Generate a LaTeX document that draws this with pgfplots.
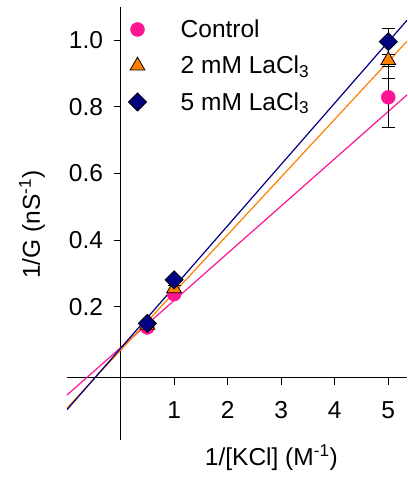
\documentclass[border=0pt]{standalone}
\usepackage{fontspec}
\setmainfont{Liberation Sans}
\usepackage{pgfplots}
\usepackage{pgfplotstable}
\pgfplotsset{compat=1.18}

\definecolor{ctlpink}{RGB}{255,20,147}
\definecolor{laorange}{RGB}{255,128,0}
\definecolor{lanavy}{RGB}{0,0,128}

% 1/G against 1/[KCl], mean and error
\pgfplotstableread{
x     y      e
0.5   0.138  0.005
1     0.238  0.008
5     0.829  0.092
}\control
\pgfplotstableread{
x     y      e
0.5   0.145  0.005
1     0.255  0.008
5     0.940  0.054
}\lathree
\pgfplotstableread{
x     y      e
0.5   0.150  0.005
1     0.281  0.008
5     0.996  0.040
}\lafive

\newcommand{\chartfont}{\fontsize{24.5}{29}\selectfont}

\begin{document}
\begin{tikzpicture}
\begin{axis}[
  scale only axis,
  width=340pt, height=433pt,
  xmin=-1, xmax=5.35, ymin=-0.2, ymax=1.1,
  clip=false,
  axis lines=middle,
  axis x line shift=4.5pt,
  axis line style={line width=1pt, -},
  xtick={1,2,3,4,5},
  ytick={0.2,0.4,0.6,0.8,1.0},
  tick align=outside,
  major tick length=7pt,
  tick style={line width=1pt, black},
  /pgf/number format/assume math mode=true,
  tick label style={font=\chartfont},
  yticklabel style={xshift=-7pt, /pgf/number format/.cd, fixed, fixed zerofill, precision=1},
  xticklabel style={yshift=-13pt},
  label style={font=\chartfont},
  xlabel={1/[KCl] (M\textsuperscript{-1})},
  ylabel={1/G (nS\textsuperscript{-1})},
  xlabel style={at={(rel axis cs:0.601,0)}, anchor=center, yshift=-18pt},
  ylabel style={at={(rel axis cs:0,0.497)}, anchor=center, xshift=-35pt, rotate=90},
  legend style={draw=none, fill=none, font=\chartfont,
    at={(rel axis cs:0.168,0.98)}, anchor=north west,
    row sep=13pt},
  legend cell align=left,
  legend image code/.code={\path (0pt,0pt) (51pt,0pt); \draw[#1] plot coordinates {(10pt,0pt)};},
  error bars/error bar style={black, line width=1pt},
  error bars/error mark options={rotate=90, mark size=6.5pt, black, line width=1pt},
]
% fitted lines
\addplot[ctlpink, line width=1.2pt, forget plot] coordinates {(-1,-0.065) (5.35,0.836)};
\addplot[laorange, line width=1.2pt, forget plot] coordinates {(-1,-0.104) (5.35,0.997)};
\addplot[lanavy, line width=1.2pt, forget plot] coordinates {(-1,-0.109) (5.35,1.060)};
% measured points
\addplot[only marks, mark=*, mark size=7pt, mark options={draw=ctlpink, fill=ctlpink},
  error bars/.cd, y dir=both, y explicit]
  table[x=x, y=y, y error=e] {\control};
\addlegendentry{Control}
\addplot[only marks, mark=triangle*, mark size=8.5pt, mark options={draw=black, fill=laorange, line width=0.8pt},
  error bars/.cd, y dir=both, y explicit]
  table[x=x, y=y, y error=e] {\lathree};
\addlegendentry{2 mM LaCl\textsubscript{3}}
\addplot[only marks, mark=square*, mark size=6.4pt, mark options={draw=black, fill=lanavy, rotate=45, line width=0.8pt},
  error bars/.cd, y dir=both, y explicit]
  table[x=x, y=y, y error=e] {\lafive};
\addlegendentry{5 mM LaCl\textsubscript{3}}
\coordinate (frameorigin) at (rel axis cs:0,0);
\end{axis}
% page frame
\pgfresetboundingbox
\path (frameorigin) ++(-67pt,-44pt) rectangle ++(407pt,484pt);
\end{tikzpicture}
\end{document}
